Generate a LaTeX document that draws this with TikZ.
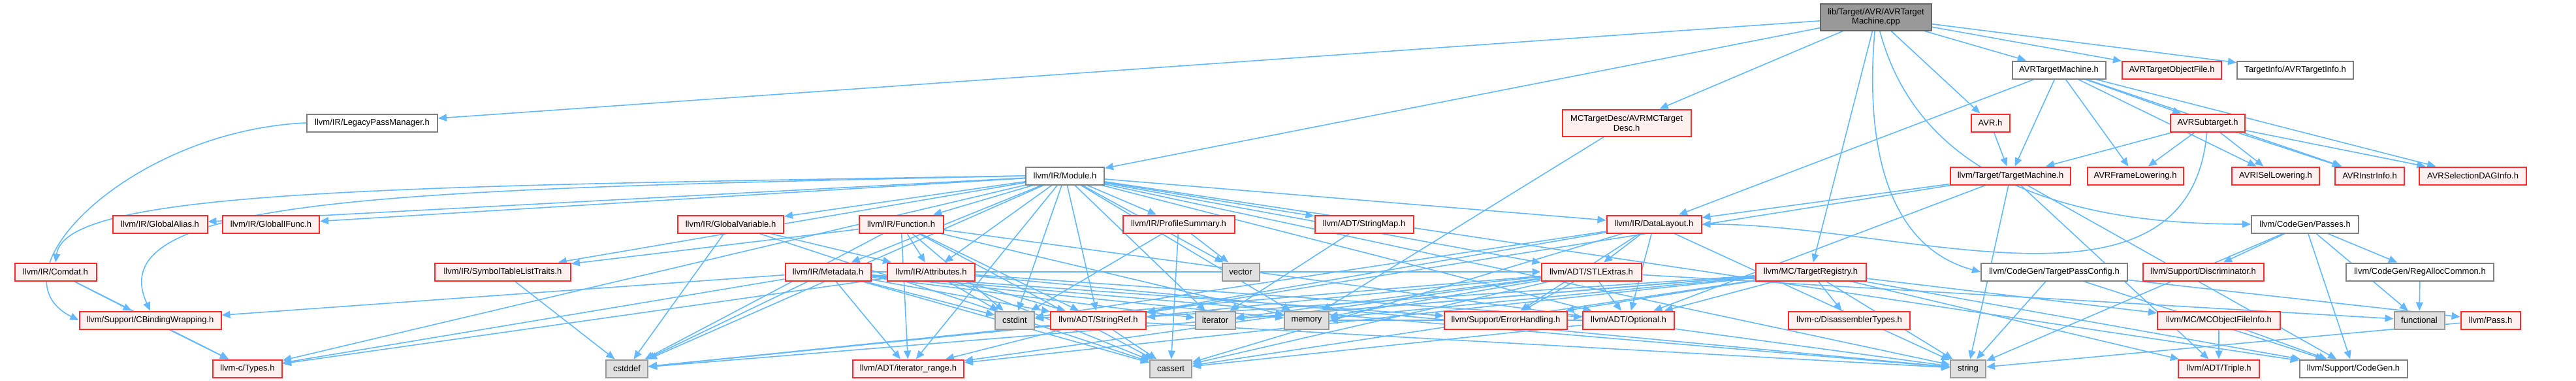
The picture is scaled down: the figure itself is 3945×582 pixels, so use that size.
\documentclass[tikz,border=0pt]{standalone}
\usepackage{fontspec}
\setmainfont{Liberation Sans}
\usetikzlibrary{arrows.meta}
\definecolor{edgec}{HTML}{63B8FF}
\definecolor{rfill}{HTML}{FFF0F0}
\definecolor{rborder}{HTML}{FF2A2A}
\definecolor{sfill}{HTML}{E0E0E0}
\definecolor{sgray}{HTML}{999999}
\definecolor{wgray}{HTML}{808080}
\definecolor{topfill}{HTML}{999999}
\definecolor{topborder}{HTML}{666666}
\pgfdeclarelayer{bg}
\pgfsetlayers{bg,main}
\newcommand\mknode[6]{\node[#5,minimum width=#4pt] (#1) at (#2,-#3) {#6};}
\begin{document}
\begin{tikzpicture}[x=1pt,y=1pt,
  nbox/.style={draw,line width=2pt,minimum height=27pt,inner xsep=3pt,inner ysep=0pt,font=\fontsize{13}{14.7}\selectfont,align=center},
  wnode/.style={nbox,fill=white,draw=wgray},
  rnode/.style={nbox,fill=rfill,draw=rborder},
  snode/.style={nbox,fill=sfill,draw=sgray},
  topn/.style={nbox,fill=topfill,draw=topborder,minimum height=41pt},
  conn/.style={draw=edgec,line width=1.6pt,-{Triangle[length=13pt,width=11pt]}}]
\useasboundingbox (0,0) rectangle (3945,-582);
% row 0
\mknode{top}{2873}{26}{170}{topn}{lib/Target/AVR/AVRTarget\\Machine.cpp}
% row 1
\mknode{tm}{3153}{107}{143}{wnode}{AVRTargetMachine.h}
\mknode{tof}{3326}{107}{152}{rnode}{AVRTargetObjectFile.h}
\mknode{tinfo}{3515}{107}{178}{wnode}{TargetInfo/AVRTargetInfo.h}
% row 2
\mknode{lpm}{570}{188}{200}{wnode}{llvm/IR/LegacyPassManager.h}
\mknode{mcd}{2491}{188}{197}{rnode,minimum height=41pt}{MCTargetDesc/AVRMCTarget\\Desc.h}
\mknode{avr}{3048}{188}{59}{rnode}{AVR.h}
\mknode{sub}{3381}{188}{114}{rnode}{AVRSubtarget.h}
% row 3
\mknode{mod}{1631}{269}{120}{wnode}{llvm/IR/Module.h}
\mknode{ttm}{3079}{269}{184}{rnode}{llvm/Target/TargetMachine.h}
\mknode{afl}{3270}{269}{147}{rnode}{AVRFrameLowering.h}
\mknode{aisel}{3485}{269}{134}{rnode}{AVRISelLowering.h}
\mknode{ainstr}{3629}{269}{106}{rnode}{AVRInstrInfo.h}
\mknode{asdag}{3787}{269}{164}{rnode}{AVRSelectionDAGInfo.h}
% row 4
\mknode{galias}{245}{343}{145}{rnode}{llvm/IR/GlobalAlias.h}
\mknode{gifunc}{415}{343}{148}{rnode}{llvm/IR/GlobalIFunc.h}
\mknode{gvar}{1119}{343}{162}{rnode}{llvm/IR/GlobalVariable.h}
\mknode{func}{1380}{343}{129}{rnode}{llvm/IR/Function.h}
\mknode{prof}{1805}{343}{171}{rnode}{llvm/IR/ProfileSummary.h}
\mknode{smap}{2089}{343}{151}{rnode}{llvm/ADT/StringMap.h}
\mknode{dl}{2533}{343}{145}{rnode}{llvm/IR/DataLayout.h}
\mknode{passes}{3530}{343}{164}{wnode}{llvm/CodeGen/Passes.h}
% row 5
\mknode{comdat}{85}{416}{125}{rnode}{llvm/IR/Comdat.h}
\mknode{sym}{770}{416}{208}{rnode}{llvm/IR/SymbolTableListTraits.h}
\mknode{meta}{1268}{416}{131}{rnode}{llvm/IR/Metadata.h}
\mknode{attr}{1426}{416}{134}{rnode}{llvm/IR/Attributes.h}
\mknode{vector}{1900}{416}{57}{snode}{vector}
\mknode{stl}{2437}{416}{153}{rnode}{llvm/ADT/STLExtras.h}
\mknode{treg}{2773}{416}{169}{rnode}{llvm/MC/TargetRegistry.h}
\mknode{tpc}{3146}{416}{224}{wnode}{llvm/CodeGen/TargetPassConfig.h}
\mknode{disc}{3374}{416}{185}{rnode}{llvm/Support/Discriminator.h}
\mknode{rac}{3706}{416}{226}{wnode}{llvm/CodeGen/RegAllocCommon.h}
% row 6
\mknode{cbw}{230}{490}{217}{rnode}{llvm/Support/CBindingWrapping.h}
\mknode{cstdint}{1554}{490}{60}{snode}{cstdint}
\mknode{sref}{1682}{490}{146}{rnode}{llvm/ADT/StringRef.h}
\mknode{iter}{1861}{490}{61}{snode}{iterator}
\mknode{mem}{2001}{490}{68}{snode}{memory}
\mknode{err}{2306}{490}{188}{rnode}{llvm/Support/ErrorHandling.h}
\mknode{opt}{2494}{490}{140}{rnode}{llvm/ADT/Optional.h}
\mknode{dis}{2832}{490}{186}{rnode}{llvm-c/DisassemblerTypes.h}
\mknode{mcofi}{3398}{490}{188}{rnode}{llvm/MC/MCObjectFileInfo.h}
\mknode{func2}{3705}{490}{77}{snode}{functional}
\mknode{pass}{3814}{490}{91}{rnode}{llvm/Pass.h}
% row 7
\mknode{types}{379}{564}{106}{rnode}{llvm-c/Types.h}
\mknode{cstddef}{960}{564}{64}{snode}{cstddef}
\mknode{irange}{1391}{564}{170}{rnode}{llvm/ADT/iterator\_range.h}
\mknode{cassert}{1793}{564}{64}{snode}{cassert}
\mknode{string}{3014}{564}{54}{snode}{string}
\mknode{triple}{3398}{564}{124}{rnode}{llvm/ADT/Triple.h}
\mknode{cg}{3604}{564}{165}{wnode}{llvm/Support/CodeGen.h}
\begin{pgfonlayer}{bg}
\foreach \a/\b in {top/lpm,top/mod,top/mcd,top/treg,top/avr,top/tm,top/tof,top/tinfo,
  tm/dl,tm/ttm,tm/afl,tm/sub,tm/aisel,tm/ainstr,tm/asdag,
  sub/ttm,sub/afl,sub/aisel,sub/ainstr,sub/asdag,avr/ttm,
  ttm/dl,ttm/opt,ttm/sref,ttm/triple,ttm/cg,ttm/string,mcd/mem,
  mod/galias,mod/gifunc,mod/gvar,mod/func,mod/meta,mod/attr,mod/prof,mod/vector,mod/smap,mod/dl,mod/stl,
  mod/sref,mod/irange,mod/cstdint,mod/iter,mod/mem,mod/opt,mod/string,mod/cg,mod/types,mod/sym,mod/cstddef,
  func/sym,func/attr,func/irange,func/sref,func/cassert,func/cstddef,func/cstdint,func/mem,func/string,
  gvar/attr,gvar/cassert,gvar/cstddef,
  meta/stl,meta/irange,meta/cbw,meta/err,meta/cassert,meta/cstddef,meta/cstdint,meta/iter,meta/mem,meta/string,meta/sref,meta/types,
  attr/types,attr/opt,attr/sref,attr/cassert,attr/cstdint,attr/string,
  prof/cassert,prof/cstdint,prof/vector,smap/iter,
  dl/stl,dl/sref,dl/err,dl/opt,dl/cassert,dl/cstdint,dl/string,
  stl/opt,stl/irange,stl/err,stl/cassert,stl/cstddef,stl/cstdint,stl/func2,stl/iter,stl/mem,
  sref/irange,sref/cassert,sref/cstddef,sref/string,opt/cassert,opt/mem,sym/cstddef,
  comdat/cbw,comdat/types,cbw/types,
  treg/dis,treg/opt,treg/sref,treg/irange,treg/mcofi,treg/cg,treg/err,treg/cassert,treg/cstddef,treg/iter,treg/mem,treg/string,treg/triple,
  mcofi/triple,mcofi/cg,passes/disc,passes/rac,passes/func2,passes/string,passes/cg,rac/func2,
  tpc/pass,tpc/cg,tpc/string,pass/string}
  \draw[conn] (\a) -- (\b);
\draw[conn] (lpm.west) .. controls (200,-200) and (-20,-420) .. (cbw.west);
\draw[conn] (mod.west) .. controls (600,-285) and (100,-290) .. (comdat.north);
\draw[conn] (mod.west) .. controls (600,-290) and (150,-300) .. (cbw.north);
\draw[conn] (top) to[out=-75,in=180] (passes.west);
\draw[conn] (top) to[out=-95,in=165] (tpc.west);
\draw[conn] (sub) to[out=-95,in=0] (dl.east);
\end{pgfonlayer}
\end{tikzpicture}
\end{document}
